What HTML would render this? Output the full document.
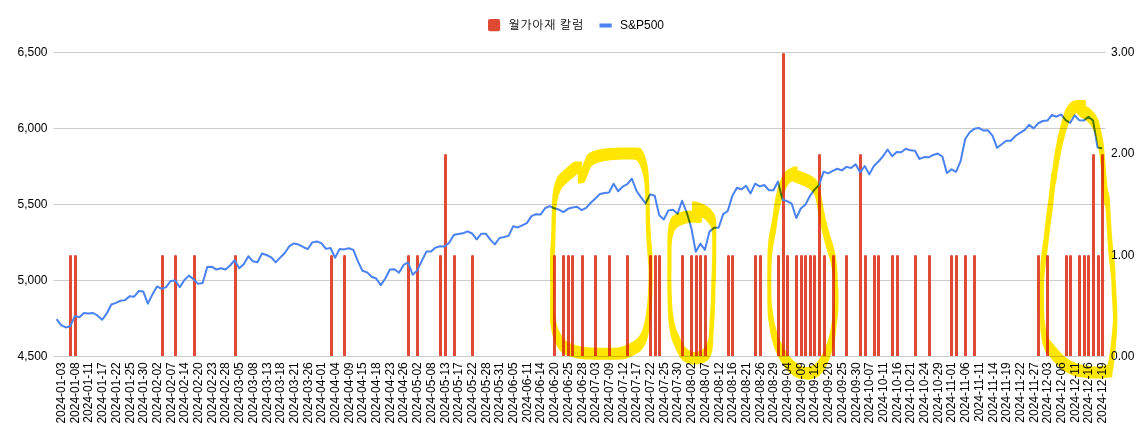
<!DOCTYPE html>
<html lang="ko"><head><meta charset="utf-8"><title>S&amp;P500 chart</title>
<style>html,body{margin:0;padding:0;background:#fff}body{width:1146px;height:433px;overflow:hidden}svg{display:block}text{font-family:"Liberation Sans","NanumGothic","Noto Sans CJK KR",sans-serif;font-size:12px;fill:#000}.hl{mix-blend-mode:multiply}</style></head><body>
<svg width="1146" height="433" viewBox="0 0 1146 433">
<rect width="1146" height="433" fill="#fff"/>
<g fill="#ccc">
<rect x="53.5" y="52" width="1052" height="1"/>
<rect x="53.5" y="128" width="1052" height="1"/>
<rect x="53.5" y="204" width="1052" height="1"/>
<rect x="53.5" y="280" width="1052" height="1"/>
<rect x="53.5" y="356" width="1052" height="1"/>
</g>
<g fill="#e04a35">
<path d="M69 356V256.3Q69 255.0 70.5 255.0Q72 255.0 72 256.3V356Z"/>
<path d="M74 356V256.3Q74 255.0 75.5 255.0Q77 255.0 77 256.3V356Z"/>
<path d="M161 356V256.3Q161 255.0 162.5 255.0Q164 255.0 164 256.3V356Z"/>
<path d="M174 356V256.3Q174 255.0 175.5 255.0Q177 255.0 177 256.3V356Z"/>
<path d="M193 356V256.3Q193 255.0 194.5 255.0Q196 255.0 196 256.3V356Z"/>
<path d="M234 356V256.3Q234 255.0 235.5 255.0Q237 255.0 237 256.3V356Z"/>
<path d="M330 356V256.3Q330 255.0 331.5 255.0Q333 255.0 333 256.3V356Z"/>
<path d="M343 356V256.3Q343 255.0 344.5 255.0Q346 255.0 346 256.3V356Z"/>
<path d="M407 356V256.3Q407 255.0 408.5 255.0Q410 255.0 410 256.3V356Z"/>
<path d="M416 356V256.3Q416 255.0 417.5 255.0Q419 255.0 419 256.3V356Z"/>
<path d="M439 356V256.3Q439 255.0 440.5 255.0Q442 255.0 442 256.3V356Z"/>
<path d="M444 356V155.3Q444 154.0 445.5 154.0Q447 154.0 447 155.3V356Z"/>
<path d="M453 356V256.3Q453 255.0 454.5 255.0Q456 255.0 456 256.3V356Z"/>
<path d="M471 356V256.3Q471 255.0 472.5 255.0Q474 255.0 474 256.3V356Z"/>
<path d="M553 356V256.3Q553 255.0 554.5 255.0Q556 255.0 556 256.3V356Z"/>
<path d="M562 356V256.3Q562 255.0 563.5 255.0Q565 255.0 565 256.3V356Z"/>
<path d="M567 356V256.3Q567 255.0 568.5 255.0Q570 255.0 570 256.3V356Z"/>
<path d="M571 356V256.3Q571 255.0 572.5 255.0Q574 255.0 574 256.3V356Z"/>
<path d="M581 356V256.3Q581 255.0 582.5 255.0Q584 255.0 584 256.3V356Z"/>
<path d="M594 356V256.3Q594 255.0 595.5 255.0Q597 255.0 597 256.3V356Z"/>
<path d="M608 356V256.3Q608 255.0 609.5 255.0Q611 255.0 611 256.3V356Z"/>
<path d="M626 356V256.3Q626 255.0 627.5 255.0Q629 255.0 629 256.3V356Z"/>
<path d="M649 356V256.3Q649 255.0 650.5 255.0Q652 255.0 652 256.3V356Z"/>
<path d="M654 356V256.3Q654 255.0 655.5 255.0Q657 255.0 657 256.3V356Z"/>
<path d="M658 356V256.3Q658 255.0 659.5 255.0Q661 255.0 661 256.3V356Z"/>
<path d="M681 356V256.3Q681 255.0 682.5 255.0Q684 255.0 684 256.3V356Z"/>
<path d="M690 356V256.3Q690 255.0 691.5 255.0Q693 255.0 693 256.3V356Z"/>
<path d="M695 356V256.3Q695 255.0 696.5 255.0Q698 255.0 698 256.3V356Z"/>
<path d="M699 356V256.3Q699 255.0 700.5 255.0Q702 255.0 702 256.3V356Z"/>
<path d="M704 356V256.3Q704 255.0 705.5 255.0Q707 255.0 707 256.3V356Z"/>
<path d="M727 356V256.3Q727 255.0 728.5 255.0Q730 255.0 730 256.3V356Z"/>
<path d="M731 356V256.3Q731 255.0 732.5 255.0Q734 255.0 734 256.3V356Z"/>
<path d="M754 356V256.3Q754 255.0 755.5 255.0Q757 255.0 757 256.3V356Z"/>
<path d="M759 356V256.3Q759 255.0 760.5 255.0Q762 255.0 762 256.3V356Z"/>
<path d="M777 356V256.3Q777 255.0 778.5 255.0Q780 255.0 780 256.3V356Z"/>
<path d="M782 356V54.3Q782 53.0 783.5 53.0Q785 53.0 785 54.3V356Z"/>
<path d="M786 356V256.3Q786 255.0 787.5 255.0Q789 255.0 789 256.3V356Z"/>
<path d="M795 356V256.3Q795 255.0 796.5 255.0Q798 255.0 798 256.3V356Z"/>
<path d="M800 356V256.3Q800 255.0 801.5 255.0Q803 255.0 803 256.3V356Z"/>
<path d="M804 356V256.3Q804 255.0 805.5 255.0Q807 255.0 807 256.3V356Z"/>
<path d="M809 356V256.3Q809 255.0 810.5 255.0Q812 255.0 812 256.3V356Z"/>
<path d="M813 356V256.3Q813 255.0 814.5 255.0Q816 255.0 816 256.3V356Z"/>
<path d="M818 356V155.3Q818 154.0 819.5 154.0Q821 154.0 821 155.3V356Z"/>
<path d="M823 356V256.3Q823 255.0 824.5 255.0Q826 255.0 826 256.3V356Z"/>
<path d="M832 356V256.3Q832 255.0 833.5 255.0Q835 255.0 835 256.3V356Z"/>
<path d="M845 356V256.3Q845 255.0 846.5 255.0Q848 255.0 848 256.3V356Z"/>
<path d="M859 356V155.3Q859 154.0 860.5 154.0Q862 154.0 862 155.3V356Z"/>
<path d="M864 356V256.3Q864 255.0 865.5 255.0Q867 255.0 867 256.3V356Z"/>
<path d="M873 356V256.3Q873 255.0 874.5 255.0Q876 255.0 876 256.3V356Z"/>
<path d="M877 356V256.3Q877 255.0 878.5 255.0Q880 255.0 880 256.3V356Z"/>
<path d="M891 356V256.3Q891 255.0 892.5 255.0Q894 255.0 894 256.3V356Z"/>
<path d="M896 356V256.3Q896 255.0 897.5 255.0Q899 255.0 899 256.3V356Z"/>
<path d="M914 356V256.3Q914 255.0 915.5 255.0Q917 255.0 917 256.3V356Z"/>
<path d="M928 356V256.3Q928 255.0 929.5 255.0Q931 255.0 931 256.3V356Z"/>
<path d="M950 356V256.3Q950 255.0 951.5 255.0Q953 255.0 953 256.3V356Z"/>
<path d="M955 356V256.3Q955 255.0 956.5 255.0Q958 255.0 958 256.3V356Z"/>
<path d="M964 356V256.3Q964 255.0 965.5 255.0Q967 255.0 967 256.3V356Z"/>
<path d="M973 356V256.3Q973 255.0 974.5 255.0Q976 255.0 976 256.3V356Z"/>
<path d="M1037 356V256.3Q1037 255.0 1038.5 255.0Q1040 255.0 1040 256.3V356Z"/>
<path d="M1046 356V256.3Q1046 255.0 1047.5 255.0Q1049 255.0 1049 256.3V356Z"/>
<path d="M1065 356V256.3Q1065 255.0 1066.5 255.0Q1068 255.0 1068 256.3V356Z"/>
<path d="M1069 356V256.3Q1069 255.0 1070.5 255.0Q1072 255.0 1072 256.3V356Z"/>
<path d="M1078 356V256.3Q1078 255.0 1079.5 255.0Q1081 255.0 1081 256.3V356Z"/>
<path d="M1083 356V256.3Q1083 255.0 1084.5 255.0Q1086 255.0 1086 256.3V356Z"/>
<path d="M1087 356V256.3Q1087 255.0 1088.5 255.0Q1090 255.0 1090 256.3V356Z"/>
<path d="M1092 356V155.3Q1092 154.0 1093.5 154.0Q1095 154.0 1095 155.3V356Z"/>
<path d="M1097 356V256.3Q1097 255.0 1098.5 255.0Q1100 255.0 1100 256.3V356Z"/>
<path d="M1101 356V155.3Q1101 154.0 1102.5 154.0Q1104 154.0 1104 155.3V356Z"/>
</g>
<polyline points="56.55,319.24 61.12,325.02 65.68,327.47 70.25,326.17 74.81,316.09 79.38,317.16 83.95,313.07 88.51,313.55 93.08,313.01 97.64,315.72 102.21,319.79 106.78,313.45 111.34,304.50 115.91,302.88 120.47,300.73 125.04,300.13 129.61,296.24 134.17,296.72 138.74,291.10 143.30,291.55 147.87,303.61 152.44,294.41 157.00,286.44 161.57,288.84 166.13,287.11 170.70,280.90 175.27,280.47 179.83,287.27 184.40,280.06 188.96,275.63 193.53,279.30 198.10,283.87 202.66,282.92 207.23,266.92 211.79,266.65 216.36,269.58 220.93,268.27 225.49,269.55 230.06,265.52 234.62,260.25 239.19,268.20 243.76,264.23 248.32,256.23 252.89,261.35 257.45,262.22 262.02,253.51 266.59,255.02 271.15,257.28 275.72,262.35 280.28,257.44 284.85,253.02 289.42,246.01 293.98,243.44 298.55,244.55 303.11,246.99 307.68,249.21 312.25,242.38 316.81,241.49 321.38,243.10 325.94,248.87 330.51,248.00 335.08,257.77 339.64,249.09 344.21,249.39 348.77,248.24 353.34,249.89 357.91,261.39 362.47,270.75 367.04,272.34 371.60,276.77 376.17,278.46 380.74,285.13 385.30,278.54 389.87,269.43 394.43,269.26 399.00,272.79 403.57,264.96 408.13,262.49 412.70,274.73 417.26,270.39 421.83,260.73 426.40,251.62 430.96,251.62 435.53,247.61 440.09,246.30 444.66,246.49 449.23,242.65 453.79,234.99 458.36,234.05 462.92,233.31 467.49,231.30 472.06,233.48 476.62,239.44 481.19,233.83 485.75,233.63 490.32,239.57 494.89,244.36 499.45,237.97 504.02,237.07 508.58,235.87 513.15,226.34 517.72,227.41 522.28,225.31 526.85,223.10 531.41,216.15 535.98,214.22 540.55,214.55 545.11,208.22 549.68,206.12 554.24,208.23 558.81,209.53 563.38,212.07 567.94,208.82 572.51,207.51 577.07,206.75 581.64,210.16 586.21,207.94 590.77,202.78 595.34,198.52 599.90,193.94 604.47,193.08 609.04,192.45 613.60,183.80 618.17,191.30 622.73,186.62 627.30,184.20 631.87,178.74 636.43,190.73 641.00,197.37 645.56,203.39 650.13,194.36 654.70,195.68 659.26,215.23 663.83,219.47 668.39,210.37 672.96,209.69 677.53,213.81 682.09,200.76 686.66,212.25 691.22,227.47 695.79,251.83 700.36,243.67 704.92,249.83 709.49,231.61 714.05,227.84 718.62,227.80 723.19,214.12 727.75,210.96 732.32,195.90 736.88,187.70 741.45,189.39 746.02,185.78 750.58,193.41 755.15,183.69 759.71,186.39 764.28,185.03 768.85,190.14 773.41,190.17 777.98,181.59 782.54,199.75 787.11,201.10 791.68,203.63 796.24,218.07 800.81,208.55 805.37,204.83 809.94,195.92 814.51,189.59 819.07,184.99 823.64,171.68 828.20,173.36 832.77,170.93 837.34,168.74 841.90,170.37 846.47,166.85 851.03,167.95 855.60,164.25 860.17,172.30 864.73,165.99 869.30,174.37 873.86,165.98 878.43,161.58 883.00,156.27 887.56,149.45 892.13,156.23 896.69,152.09 901.26,152.25 905.83,148.72 910.39,150.35 914.96,150.77 919.52,158.94 924.09,157.05 928.66,157.32 933.22,154.97 937.79,153.55 942.35,156.47 946.92,172.92 951.49,169.37 956.05,171.82 960.62,161.17 965.18,138.94 969.75,132.24 974.32,128.83 978.88,127.94 983.45,130.58 988.01,130.37 992.58,135.88 997.15,147.82 1001.71,144.32 1006.28,140.77 1010.84,140.75 1015.41,135.95 1019.98,132.81 1024.54,130.07 1029.11,124.86 1033.67,128.34 1038.24,123.23 1042.81,120.98 1047.37,120.57 1051.94,115.00 1056.50,116.73 1061.07,114.43 1065.64,120.12 1070.20,122.84 1074.77,115.35 1079.33,120.36 1083.90,120.38 1088.47,116.89 1093.03,120.46 1097.60,147.58 1102.16,148.35" fill="none" stroke="#4a82f2" stroke-width="2" stroke-linejoin="round"/>
<g class="hl" fill="#ffe600" stroke="none">
<path d="M552.0 204.7 L551.9 207.4 L551.8 210.1 L551.8 212.9 L551.7 215.5 L551.6 218.1 L551.5 220.7 L551.5 223.3 L551.4 225.9 L551.4 228.5 L551.3 231.1 L551.2 233.7 L551.1 236.3 L551.0 238.9 L550.8 241.5 L550.7 244.0 L550.5 246.6 L550.3 249.2 L550.2 251.8 L550.1 254.4 L550.0 257.1 L550.0 259.8 L550.0 271.8 L550.0 274.5 L550.1 277.2 L550.2 279.9 L550.2 282.6 L550.3 285.5 L550.3 286.6 L550.3 289.9 L550.2 293.6 L550.1 297.2 L550.1 300.6 L550.1 303.7 L550.1 315.7 L550.1 318.3 L550.1 320.4 L550.2 322.0 L550.3 323.2 L550.4 324.3 L550.5 325.2 L550.7 326.2 L550.9 327.2 L551.1 328.5 L551.4 330.0 L551.7 331.6 L552.0 333.2 L552.4 334.9 L552.8 336.5 L553.3 338.1 L553.8 339.7 L554.4 341.2 L555.0 342.6 L555.8 344.1 L556.5 345.5 L557.3 346.8 L558.2 348.1 L559.0 349.3 L559.9 350.4 L560.8 351.4 L561.7 352.2 L562.5 353.0 L563.3 353.6 L564.2 354.1 L565.1 354.6 L566.1 355.0 L567.2 355.4 L568.4 355.9 L569.7 356.4 L571.0 356.8 L572.5 357.3 L574.0 357.7 L575.6 358.1 L577.3 358.4 L579.1 358.7 L581.1 359.0 L583.3 359.2 L585.8 359.4 L588.4 359.5 L591.1 359.6 L593.8 359.7 L596.5 359.7 L599.0 359.8 L601.4 359.8 L603.6 359.8 L607.6 359.8 L609.8 359.8 L611.9 359.8 L614.0 359.8 L615.9 359.7 L617.7 359.7 L619.3 359.6 L620.7 359.5 L621.9 359.4 L622.7 359.4 L623.4 359.3 L624.0 359.2 L624.5 359.1 L625.0 358.9 L625.6 358.7 L626.3 358.5 L627.2 358.2 L628.1 357.9 L629.0 357.5 L630.0 357.1 L631.0 356.7 L632.0 356.2 L632.9 355.7 L633.9 355.2 L634.9 354.7 L635.9 354.1 L636.9 353.6 L637.9 353.0 L638.8 352.4 L639.8 351.7 L640.7 350.9 L641.5 350.1 L642.3 349.2 L643.0 348.2 L643.7 347.1 L644.4 346.0 L645.0 344.8 L645.6 343.6 L646.1 342.4 L646.6 341.2 L647.0 340.0 L647.4 338.9 L647.7 337.7 L648.0 336.5 L648.3 335.2 L648.6 333.9 L648.8 332.5 L649.1 331.0 L649.4 329.4 L649.7 327.7 L650.0 325.9 L650.2 324.0 L650.5 322.1 L650.8 320.0 L651.0 318.0 L651.2 315.8 L651.4 313.6 L651.6 311.3 L651.7 309.0 L651.9 306.6 L652.0 304.1 L652.1 301.6 L652.2 298.8 L652.3 296.0 L652.4 292.9 L652.5 289.6 L652.5 286.2 L652.6 282.6 L652.6 279.1 L652.6 275.6 L652.6 263.6 L652.6 260.2 L652.5 257.1 L652.4 254.2 L652.2 251.5 L652.0 248.9 L651.8 246.3 L651.6 243.8 L651.4 241.4 L651.2 238.9 L651.0 236.3 L650.8 233.7 L650.7 231.1 L650.5 228.5 L650.4 225.9 L650.2 223.3 L650.1 220.7 L650.0 218.1 L649.9 215.5 L649.8 212.9 L649.8 210.2 L649.7 207.4 L649.7 204.7 L649.7 202.1 L649.7 199.5 L649.6 197.1 L649.6 194.8 L649.5 192.7 L649.5 190.7 L649.4 188.9 L649.3 187.1 L649.2 185.4 L649.2 183.8 L649.1 182.3 L649.0 180.8 L648.9 179.4 L648.8 178.0 L648.8 176.8 L648.7 175.6 L648.6 174.4 L648.5 173.3 L648.4 172.2 L648.3 171.1 L648.2 170.0 L648.0 168.9 L647.9 167.8 L647.7 166.8 L647.6 165.7 L647.4 164.7 L647.2 163.8 L647.0 162.8 L646.8 161.9 L646.5 161.0 L646.3 160.1 L646.0 159.2 L645.8 158.4 L645.5 157.5 L645.2 156.7 L644.9 155.9 L644.6 155.1 L644.2 154.3 L643.9 153.4 L643.5 152.6 L643.2 151.9 L642.8 151.2 L642.5 150.5 L642.1 150.0 L641.8 149.5 L641.5 149.2 L641.2 148.9 L641.0 148.6 L640.7 148.4 L640.3 148.2 L639.9 148.1 L639.3 147.9 L638.6 147.8 L637.8 147.6 L636.9 147.6 L636.0 147.5 L635.0 147.5 L634.0 147.4 L633.0 147.4 L632.0 147.4 L631.0 147.4 L630.1 147.4 L629.2 147.4 L625.2 147.4 L624.2 147.4 L623.2 147.4 L622.1 147.4 L620.9 147.4 L619.6 147.5 L618.1 147.6 L616.3 147.7 L614.4 147.8 L612.5 147.9 L610.5 148.0 L608.7 148.1 L606.9 148.3 L605.4 148.4 L604.1 148.6 L602.9 148.7 L601.8 148.9 L600.8 149.1 L599.9 149.2 L598.9 149.4 L598.0 149.7 L597.1 149.9 L596.1 150.2 L595.2 150.4 L594.3 150.7 L593.4 151.0 L592.5 151.3 L591.7 151.7 L590.9 152.0 L590.2 152.4 L589.6 152.8 L589.0 153.1 L588.5 153.5 L588.1 153.9 L587.7 154.3 L587.3 154.8 L586.9 155.3 L586.5 155.9 L586.1 156.6 L585.8 157.3 L585.4 158.2 L585.1 159.0 L584.8 159.9 L584.5 160.8 L584.1 161.7 L583.8 162.6 L583.5 163.5 L583.1 164.4 L582.8 165.4 L582.4 166.4 L582.1 167.3 L582.0 167.5 L582.0 161.6 L581.7 161.6 L581.3 161.6 L580.8 161.5 L580.2 161.5 L576.2 161.5 L575.6 161.5 L575.0 161.6 L574.4 161.7 L573.8 161.9 L573.2 162.2 L572.6 162.6 L572.0 163.1 L571.3 163.6 L570.7 164.2 L570.0 164.8 L569.4 165.3 L568.7 165.9 L568.0 166.5 L567.3 167.1 L566.6 167.7 L565.9 168.3 L565.2 168.9 L564.5 169.6 L563.8 170.2 L563.1 170.8 L562.4 171.4 L561.8 172.0 L561.2 172.5 L560.5 173.1 L559.9 173.7 L559.4 174.3 L558.8 174.9 L558.3 175.6 L557.8 176.3 L557.4 176.9 L557.0 177.6 L556.7 178.2 L556.3 179.0 L556.0 179.8 L555.7 180.8 L555.3 181.9 L554.9 183.1 L554.5 184.5 L554.1 185.9 L553.8 187.5 L553.4 189.1 L553.1 190.9 L552.8 192.8 L552.5 194.8 L552.3 197.0 L552.2 199.4 L552.0 202.0Z M597.8 347.7 L595.1 347.6 L592.4 347.5 L589.8 347.4 L587.3 347.2 L585.1 347.0 L583.1 346.7 L581.3 346.4 L579.6 346.1 L578.0 345.7 L576.5 345.3 L575.0 344.8 L573.7 344.4 L572.4 343.9 L571.2 343.4 L570.1 343.0 L569.1 342.6 L568.2 342.1 L567.3 341.6 L566.5 341.0 L565.7 340.2 L564.8 339.4 L563.9 338.4 L563.0 337.3 L562.2 336.1 L561.3 334.8 L560.5 333.5 L559.8 332.1 L559.0 330.6 L558.4 329.2 L557.8 327.7 L557.3 326.1 L556.8 324.5 L556.4 322.9 L556.0 321.2 L555.7 319.6 L555.4 318.0 L555.1 316.5 L554.9 315.2 L554.7 314.2 L554.5 313.2 L554.4 312.3 L554.3 311.2 L554.2 310.0 L554.2 308.7 L554.2 305.6 L554.3 301.9 L554.3 298.2 L554.4 294.7 L554.4 291.4 L554.4 279.4 L554.4 276.4 L554.3 273.5 L554.2 270.6 L554.2 267.9 L554.1 265.9 L554.2 263.8 L554.3 261.2 L554.5 258.6 L554.7 256.0 L554.8 253.5 L555.0 250.9 L555.1 248.3 L555.2 245.7 L555.3 243.1 L555.4 240.5 L555.4 237.9 L555.5 235.3 L555.5 232.7 L555.6 230.1 L555.7 227.5 L555.8 224.9 L555.8 222.1 L555.9 219.4 L556.0 216.7 L556.0 214.0 L556.2 211.4 L556.3 209.0 L556.5 206.8 L556.8 204.8 L557.1 202.9 L557.4 201.1 L557.8 199.5 L558.1 197.9 L558.5 196.5 L558.9 195.1 L559.3 193.9 L559.7 192.8 L560.0 191.8 L560.3 191.0 L560.7 190.2 L561.0 189.6 L561.4 188.9 L561.8 188.3 L562.3 187.6 L562.8 186.9 L563.4 186.3 L563.9 185.7 L564.5 185.1 L565.2 184.5 L565.8 184.0 L566.4 183.4 L567.1 182.8 L567.8 182.2 L568.5 181.6 L569.2 180.9 L569.9 180.3 L570.6 179.7 L571.3 179.1 L572.0 178.5 L572.7 177.9 L573.4 177.3 L574.0 176.8 L574.7 176.2 L575.3 175.6 L576.0 175.1 L576.6 174.6 L577.2 174.2 L577.8 173.9 L577.8 183.4 L581.8 183.4 L582.0 183.3 L582.4 183.2 L582.8 183.0 L583.2 182.9 L583.7 182.7 L584.2 182.4 L584.6 182.0 L585.0 181.5 L585.4 180.9 L585.7 180.1 L586.1 179.3 L586.4 178.4 L586.8 177.4 L587.1 176.4 L587.5 175.5 L587.8 174.6 L588.1 173.7 L588.5 172.8 L588.8 171.9 L589.1 171.0 L589.4 170.2 L589.8 169.3 L590.1 168.6 L590.5 167.9 L590.9 167.3 L591.3 166.8 L591.7 166.3 L592.1 165.9 L592.5 165.5 L593.0 165.1 L593.6 164.8 L594.2 164.4 L594.9 164.0 L595.7 163.7 L596.5 163.3 L597.4 163.0 L598.3 162.7 L599.2 162.4 L600.1 162.2 L601.1 161.9 L602.0 161.7 L602.9 161.4 L603.9 161.2 L604.8 161.1 L605.8 160.9 L606.9 160.7 L608.1 160.6 L609.4 160.4 L610.9 160.3 L612.7 160.1 L614.5 160.0 L616.5 159.9 L618.4 159.8 L620.3 159.7 L622.1 159.6 L623.6 159.5 L624.9 159.4 L626.1 159.4 L627.1 159.4 L628.0 159.4 L629.0 159.4 L630.0 159.4 L631.0 159.5 L632.0 159.5 L632.9 159.6 L633.8 159.6 L634.6 159.8 L635.3 159.9 L635.9 160.1 L636.3 160.2 L636.7 160.4 L637.0 160.6 L637.2 160.9 L637.5 161.2 L637.8 161.5 L638.1 162.0 L638.5 162.5 L638.8 163.2 L639.2 163.9 L639.5 164.6 L639.9 165.4 L640.2 166.3 L640.6 167.1 L640.9 167.9 L641.2 168.7 L641.5 169.5 L641.8 170.4 L642.0 171.2 L642.3 172.1 L642.5 173.0 L642.8 173.9 L643.0 174.8 L643.2 175.8 L643.4 176.7 L643.6 177.7 L643.7 178.8 L643.9 179.8 L644.0 180.9 L644.2 182.0 L644.3 183.1 L644.4 184.2 L644.5 185.3 L644.6 186.4 L644.7 187.6 L644.8 188.8 L644.8 190.0 L644.9 191.4 L645.0 192.8 L645.1 194.3 L645.2 195.8 L645.2 197.4 L645.3 199.1 L645.4 200.9 L645.5 202.7 L645.5 204.7 L645.6 206.8 L645.6 209.1 L645.7 211.5 L645.7 214.1 L645.7 216.7 L645.7 219.4 L645.8 222.2 L645.8 224.9 L645.9 227.5 L646.0 230.1 L646.1 232.7 L646.2 235.3 L646.4 237.9 L646.5 240.5 L646.7 243.1 L646.8 245.7 L647.0 248.3 L647.2 250.9 L647.4 253.4 L647.6 255.8 L647.8 258.3 L648.0 260.9 L648.2 263.5 L648.4 266.2 L648.5 269.1 L648.5 271.6 L648.5 274.2 L648.5 277.6 L648.4 280.9 L648.3 284.0 L648.2 286.8 L648.1 289.6 L648.0 292.1 L647.9 294.6 L647.7 297.0 L647.6 299.3 L647.4 301.6 L647.2 303.8 L647.0 306.0 L646.8 308.0 L646.5 310.1 L646.2 312.0 L646.0 313.9 L645.7 315.7 L645.4 317.4 L645.1 319.0 L644.8 320.5 L644.6 321.9 L644.3 323.2 L644.0 324.5 L643.7 325.7 L643.4 326.9 L643.0 328.0 L642.6 329.2 L642.1 330.4 L641.6 331.6 L641.0 332.8 L640.4 334.0 L639.7 335.1 L639.0 336.2 L638.3 337.2 L637.5 338.1 L636.7 338.9 L635.8 339.7 L634.8 340.4 L633.9 341.0 L632.9 341.6 L631.9 342.1 L630.9 342.7 L629.9 343.2 L628.9 343.7 L628.0 344.2 L627.0 344.7 L626.0 345.1 L625.0 345.5 L624.1 345.9 L623.2 346.2 L622.3 346.5 L621.6 346.7 L621.0 346.9 L620.5 347.1 L620.0 347.2 L619.4 347.3 L618.7 347.4 L617.9 347.4 L616.7 347.5 L615.3 347.6 L613.7 347.7 L611.9 347.7 L610.0 347.8 L607.9 347.8 L606.6 347.8 L605.4 347.8 L603.0 347.8 L600.5 347.7Z"/>
<path d="M668.2 227.6 L668.1 228.8 L667.9 230.2 L667.8 231.7 L667.7 233.4 L667.5 235.1 L667.4 236.8 L667.4 238.5 L667.3 240.1 L667.3 241.6 L667.3 253.6 L667.3 255.0 L667.3 256.3 L667.4 257.7 L667.4 259.2 L667.4 259.9 L667.4 260.4 L667.4 263.4 L667.3 266.4 L667.3 269.5 L667.3 272.6 L667.3 284.6 L667.3 287.5 L667.3 290.5 L667.4 293.5 L667.5 296.6 L667.5 299.7 L667.6 302.7 L667.7 305.6 L667.8 308.2 L667.9 310.6 L668.0 312.7 L668.1 314.4 L668.1 316.0 L668.2 317.4 L668.3 318.7 L668.4 320.0 L668.5 321.5 L668.7 323.0 L668.9 324.7 L669.1 326.5 L669.4 328.3 L669.7 330.1 L670.0 332.0 L670.3 333.7 L670.6 335.4 L671.0 336.9 L671.4 338.3 L671.7 339.5 L672.1 340.7 L672.5 341.8 L673.0 342.8 L673.4 343.9 L673.9 344.9 L674.4 346.1 L674.9 347.3 L675.5 348.6 L676.0 349.9 L676.6 351.2 L677.2 352.5 L677.8 353.8 L678.5 354.9 L679.1 356.0 L679.8 357.0 L680.4 357.9 L681.1 358.7 L681.8 359.5 L682.5 360.2 L683.3 360.8 L684.0 361.4 L684.8 362.0 L685.6 362.5 L686.5 362.9 L687.4 363.3 L688.3 363.7 L689.2 363.9 L690.1 364.1 L691.0 364.3 L691.9 364.4 L692.8 364.4 L696.8 364.4 L697.7 364.4 L698.6 364.3 L699.5 364.1 L700.4 363.9 L701.2 363.7 L702.1 363.4 L702.9 363.1 L703.7 362.8 L704.5 362.4 L705.3 362.0 L706.1 361.5 L706.8 361.0 L707.5 360.5 L708.1 359.9 L708.7 359.3 L709.2 358.6 L709.7 357.9 L710.1 357.1 L710.5 356.3 L710.8 355.5 L711.1 354.7 L711.4 353.8 L711.7 353.0 L711.9 352.2 L712.1 351.4 L712.3 350.7 L712.5 349.9 L712.6 349.1 L712.7 348.2 L712.8 347.2 L712.9 346.1 L713.0 345.0 L713.1 343.8 L713.1 342.7 L713.2 341.4 L713.2 340.0 L713.3 338.5 L713.4 336.7 L713.5 334.6 L713.6 332.2 L713.8 329.5 L714.0 326.5 L714.2 323.3 L714.4 320.1 L714.6 316.8 L714.8 313.6 L714.9 310.6 L715.0 307.6 L715.1 304.4 L715.2 301.2 L715.3 298.1 L715.3 295.1 L715.4 292.2 L715.4 289.7 L715.5 287.5 L715.6 285.8 L715.6 284.5 L715.7 283.5 L715.7 282.7 L715.8 282.0 L715.8 281.2 L715.9 280.3 L715.9 279.0 L715.9 277.5 L716.0 275.9 L716.0 274.2 L716.1 272.5 L716.1 270.6 L716.1 268.6 L716.2 266.6 L716.2 264.4 L716.2 262.0 L716.2 259.3 L716.2 256.5 L716.2 244.5 L716.2 241.6 L716.2 241.1 L716.2 240.6 L716.2 239.5 L716.3 238.6 L716.3 237.8 L716.3 225.8 L716.3 225.0 L716.2 224.2 L716.2 223.3 L716.1 222.3 L716.1 221.4 L716.0 220.4 L715.9 219.5 L715.8 218.5 L715.6 217.7 L715.4 216.8 L715.2 216.0 L714.9 215.2 L714.6 214.5 L714.2 213.8 L713.9 213.2 L713.4 212.6 L713.0 212.0 L712.6 211.4 L712.1 210.8 L711.6 210.2 L711.2 209.7 L710.7 209.1 L710.2 208.6 L709.7 208.1 L709.1 207.6 L708.5 207.2 L707.9 206.7 L707.2 206.2 L706.5 205.8 L705.7 205.4 L704.9 205.0 L704.1 204.6 L703.3 204.2 L702.5 203.8 L701.7 203.5 L700.9 203.2 L700.1 202.9 L699.3 202.6 L698.5 202.3 L697.8 202.1 L697.1 201.8 L696.5 201.6 L696.1 201.5 L692.1 201.5 L692.1 210.6 L690.7 210.6 L689.0 210.6 L687.4 210.7 L686.0 210.8 L684.7 211.0 L683.4 211.3 L682.2 211.6 L681.0 211.9 L679.9 212.3 L678.9 212.7 L677.8 213.1 L676.9 213.5 L676.0 213.9 L675.2 214.3 L674.5 214.8 L673.8 215.2 L673.1 215.7 L672.5 216.2 L672.0 216.8 L671.5 217.3 L671.1 217.9 L670.7 218.5 L670.4 219.2 L670.2 219.8 L670.0 220.5 L669.8 221.2 L669.6 221.8 L669.4 222.5 L669.2 223.1 L669.0 223.6 L668.9 224.1 L668.7 224.6 L668.6 225.1 L668.5 225.8 L668.3 226.6Z M686.5 348.2 L685.8 347.5 L685.1 346.7 L684.4 345.9 L683.8 345.0 L683.1 344.0 L682.5 342.9 L681.8 341.8 L681.2 340.5 L680.6 339.2 L680.0 337.9 L679.5 336.6 L678.9 335.3 L678.4 334.1 L677.9 332.9 L677.4 331.9 L677.0 330.8 L676.5 329.8 L676.1 328.7 L675.7 327.5 L675.4 326.3 L675.0 324.9 L674.6 323.4 L674.3 321.7 L674.0 320.0 L673.7 318.1 L673.4 316.3 L673.1 314.5 L672.9 312.7 L672.7 311.0 L672.5 309.5 L672.4 308.0 L672.3 306.7 L672.2 305.4 L672.1 304.0 L672.1 302.4 L672.0 300.7 L671.9 298.6 L671.8 296.2 L671.7 293.6 L671.6 290.7 L671.5 287.7 L671.5 284.6 L671.4 281.5 L671.3 278.5 L671.3 278.4 L671.4 275.4 L671.4 272.4 L671.5 269.6 L671.5 267.0 L671.5 264.6 L671.5 252.6 L671.5 250.5 L671.5 248.7 L671.4 248.7 L671.5 247.1 L671.7 245.4 L671.8 243.7 L671.9 242.2 L672.1 240.8 L672.2 239.6 L672.3 238.6 L672.5 237.8 L672.6 237.1 L672.7 236.6 L672.9 236.1 L673.0 235.6 L673.2 235.1 L673.4 234.5 L673.6 233.8 L673.8 233.2 L674.0 232.5 L674.2 231.8 L674.4 231.2 L674.7 230.5 L675.1 229.9 L675.5 229.3 L676.0 228.8 L676.5 228.2 L677.1 227.7 L677.8 227.2 L678.5 226.8 L679.2 226.3 L680.0 225.9 L680.9 225.5 L681.8 225.1 L682.9 224.7 L683.9 224.3 L685.0 223.9 L686.2 223.6 L687.4 223.3 L688.7 223.0 L690.0 222.8 L691.4 222.7 L693.0 222.6 L694.1 222.6 L695.6 222.7 L696.9 222.7 L697.8 222.7 L701.8 222.7 L701.8 217.4 L702.5 217.8 L703.2 218.2 L703.9 218.7 L704.5 219.2 L705.1 219.6 L705.7 220.1 L706.2 220.6 L706.7 221.1 L707.2 221.7 L707.6 222.2 L708.1 222.8 L708.6 223.4 L709.0 224.0 L709.4 224.6 L709.9 225.2 L710.2 225.8 L710.6 226.5 L710.9 227.2 L711.2 228.0 L711.4 228.8 L711.6 229.7 L711.8 230.5 L711.9 231.5 L712.0 232.4 L712.1 233.4 L712.1 234.3 L712.2 235.3 L712.2 243.6 L712.2 245.6 L712.2 248.1 L712.2 250.4 L712.2 252.4 L712.2 254.6 L712.1 256.6 L712.1 258.6 L712.1 260.5 L712.0 262.2 L712.0 263.9 L711.9 265.5 L711.9 267.0 L711.9 268.3 L711.8 269.2 L711.8 270.0 L711.7 270.7 L711.7 271.5 L711.6 272.5 L711.6 273.8 L711.5 275.5 L711.4 277.7 L711.4 280.2 L711.3 283.1 L711.3 286.1 L711.2 289.2 L711.1 292.4 L711.0 295.6 L710.9 298.6 L710.8 301.6 L710.6 304.8 L710.4 308.1 L710.2 311.3 L710.0 314.5 L709.8 317.5 L709.6 320.2 L709.5 322.6 L709.4 324.7 L709.3 326.5 L709.2 328.0 L709.2 329.4 L709.1 330.7 L709.1 331.8 L709.0 333.0 L708.9 334.1 L708.8 335.2 L708.7 336.2 L708.6 337.1 L708.5 337.9 L708.3 338.7 L708.1 339.4 L707.9 340.2 L707.7 341.0 L707.4 341.8 L707.1 342.7 L706.8 343.5 L706.5 344.3 L706.1 345.1 L705.7 345.9 L705.2 346.6 L704.7 347.3 L704.1 347.9 L703.5 348.5 L702.8 349.0 L702.1 349.5 L701.3 350.0 L700.5 350.4 L699.7 350.8 L698.9 351.1 L698.1 351.4 L697.2 351.7 L696.4 351.9 L695.5 352.1 L694.8 352.3 L694.1 352.1 L693.2 351.9 L692.3 351.7 L691.4 351.3 L690.5 350.9 L689.6 350.5 L688.8 350.0 L688.0 349.4 L687.3 348.8Z"/>
<path d="M768.3 241.4 L768.2 243.1 L768.0 244.8 L767.9 246.6 L767.8 248.4 L767.7 250.2 L767.6 252.1 L767.5 254.1 L767.5 256.1 L767.4 258.1 L767.4 260.2 L767.4 262.2 L767.3 264.3 L767.3 266.3 L767.3 268.3 L767.3 270.3 L767.3 272.2 L767.2 274.2 L767.2 286.2 L767.3 288.2 L767.3 290.2 L767.3 292.3 L767.3 294.5 L767.3 296.8 L767.3 299.3 L767.3 301.8 L767.4 304.3 L767.4 306.9 L767.5 309.4 L767.6 311.8 L767.7 314.1 L767.9 316.3 L768.1 318.5 L768.4 320.6 L768.7 322.7 L769.0 324.7 L769.3 326.6 L769.5 328.3 L769.8 329.9 L770.0 331.3 L770.2 332.4 L770.4 333.4 L770.5 334.3 L770.7 335.1 L770.9 336.0 L771.1 336.9 L771.4 338.0 L771.7 339.2 L772.0 340.4 L772.4 341.8 L772.8 343.1 L773.2 344.4 L773.6 345.7 L774.0 347.0 L774.4 348.2 L774.8 349.3 L775.2 350.4 L775.7 351.4 L776.1 352.4 L776.6 353.4 L777.1 354.5 L777.6 355.5 L778.2 356.6 L778.8 357.8 L779.5 359.0 L780.2 360.2 L780.9 361.5 L781.7 362.8 L782.4 364.0 L783.2 365.2 L784.0 366.3 L784.8 367.3 L785.6 368.4 L786.4 369.3 L787.2 370.3 L788.0 371.2 L788.9 372.0 L789.7 372.8 L790.6 373.6 L791.5 374.3 L792.5 375.0 L793.4 375.7 L794.4 376.3 L795.4 376.9 L796.4 377.4 L797.4 377.8 L798.3 378.2 L799.2 378.5 L800.2 378.7 L801.2 378.9 L802.2 379.0 L803.1 379.1 L803.9 379.1 L804.7 379.1 L805.3 379.2 L805.8 379.3 L806.0 379.3 L806.2 379.4 L806.3 379.4 L806.4 379.4 L810.4 379.4 L810.6 379.4 L810.9 379.3 L811.3 379.2 L811.9 379.0 L812.6 378.8 L813.5 378.5 L814.4 378.2 L815.3 377.9 L816.2 377.5 L817.0 377.1 L817.8 376.7 L818.5 376.2 L819.1 375.7 L819.8 375.2 L820.4 374.6 L820.9 374.0 L821.5 373.4 L822.1 372.7 L822.7 371.9 L823.3 371.0 L823.9 370.1 L824.6 369.1 L825.2 368.1 L825.8 367.0 L826.4 365.9 L827.0 364.8 L827.5 363.8 L828.0 362.8 L828.4 361.8 L828.8 360.8 L829.2 359.7 L829.6 358.7 L830.0 357.7 L830.3 356.7 L830.7 355.7 L831.1 354.7 L831.4 353.7 L831.7 352.8 L832.0 351.8 L832.3 350.8 L832.6 349.8 L832.9 348.8 L833.2 347.7 L833.5 346.6 L833.7 345.4 L834.0 344.1 L834.2 342.9 L834.5 341.6 L834.7 340.4 L834.9 339.1 L835.1 338.0 L835.3 337.0 L835.4 336.1 L835.5 335.3 L835.6 334.6 L835.7 333.7 L835.8 332.7 L835.9 331.4 L836.1 329.9 L836.3 328.0 L836.6 325.8 L837.0 323.3 L837.3 320.8 L837.6 318.1 L837.9 315.5 L838.1 312.9 L838.3 310.6 L838.4 308.4 L838.4 306.4 L838.4 294.4 L838.4 292.3 L838.3 290.4 L838.2 288.4 L838.1 286.5 L838.0 284.5 L837.9 282.5 L837.8 280.5 L837.7 278.5 L837.7 276.4 L837.6 274.4 L837.5 272.4 L837.3 270.3 L837.2 268.3 L837.0 266.3 L836.8 264.3 L836.5 262.3 L836.3 260.3 L836.0 258.3 L835.7 256.3 L835.3 254.3 L834.9 252.3 L834.5 250.2 L834.0 248.1 L833.4 246.0 L832.8 244.0 L832.1 241.8 L831.5 239.7 L830.8 237.6 L830.1 235.4 L829.5 233.2 L828.9 231.0 L828.3 228.7 L827.7 226.4 L827.1 224.1 L826.5 221.8 L826.0 219.4 L825.4 217.1 L824.9 214.8 L824.4 212.4 L823.9 210.0 L823.5 207.6 L823.0 205.1 L822.6 202.7 L822.2 200.4 L821.8 198.3 L821.4 196.3 L821.1 194.5 L820.8 192.8 L820.5 191.2 L820.2 189.7 L820.0 188.3 L819.7 187.0 L819.4 185.8 L819.1 184.7 L818.7 183.7 L818.4 182.8 L818.0 182.1 L817.6 181.4 L817.1 180.8 L816.7 180.2 L816.2 179.6 L815.6 179.0 L815.0 178.4 L814.4 177.9 L813.7 177.3 L813.0 176.8 L812.2 176.4 L811.5 175.9 L810.7 175.4 L809.9 175.0 L809.1 174.6 L808.2 174.2 L807.3 173.8 L806.4 173.4 L805.5 173.0 L804.6 172.7 L803.7 172.3 L802.9 172.0 L802.1 171.7 L801.2 171.4 L800.3 171.1 L799.5 170.8 L798.7 170.5 L798.0 170.3 L797.5 170.1 L797.5 166.6 L797.5 166.6 L793.5 166.6 L793.4 166.6 L793.3 166.7 L793.2 166.7 L793.2 166.7 L793.2 166.8 L792.9 167.0 L792.3 167.3 L791.6 167.6 L790.7 168.0 L789.7 168.5 L788.7 169.0 L787.7 169.6 L786.8 170.2 L786.0 170.8 L785.3 171.5 L784.7 172.2 L784.1 173.0 L783.5 173.8 L783.0 174.6 L782.5 175.6 L781.9 176.6 L781.4 177.7 L780.9 178.9 L780.3 180.2 L779.8 181.6 L779.3 183.1 L778.8 184.6 L778.3 186.1 L777.8 187.7 L777.4 189.3 L777.0 190.9 L776.6 192.5 L776.2 194.2 L775.8 195.9 L775.4 197.7 L775.1 199.4 L774.7 201.2 L774.4 203.1 L774.1 205.0 L773.8 207.0 L773.5 209.0 L773.3 211.0 L773.0 213.1 L772.7 215.2 L772.4 217.2 L772.1 219.3 L771.7 221.4 L771.3 223.5 L770.9 225.6 L770.5 227.8 L770.1 229.9 L769.7 232.0 L769.3 234.0 L769.0 236.0 L768.7 237.9 L768.5 239.7Z M803.2 366.5 L802.3 366.2 L801.4 365.8 L800.4 365.4 L799.4 364.9 L798.4 364.3 L797.4 363.7 L796.5 363.0 L795.5 362.3 L794.6 361.6 L793.7 360.8 L792.9 360.0 L792.0 359.2 L791.2 358.3 L790.4 357.3 L789.6 356.4 L788.8 355.3 L788.0 354.3 L787.2 353.2 L786.4 352.0 L785.7 350.8 L784.9 349.5 L784.2 348.2 L783.5 347.0 L782.8 345.8 L782.2 344.6 L781.6 343.5 L781.1 342.5 L780.6 341.4 L780.1 340.4 L779.7 339.4 L779.2 338.4 L778.8 337.3 L778.4 336.2 L778.0 335.0 L777.6 333.7 L777.2 332.4 L776.8 331.1 L776.4 329.8 L776.0 328.4 L775.7 327.2 L775.4 326.0 L775.1 324.9 L774.9 324.0 L774.7 323.1 L774.5 322.3 L774.4 321.4 L774.2 320.4 L774.0 319.3 L773.8 317.9 L773.5 316.3 L773.3 314.6 L773.0 312.7 L772.7 310.7 L772.4 308.6 L772.1 306.5 L771.9 304.3 L771.7 302.1 L771.6 299.8 L771.5 297.4 L771.4 294.9 L771.4 292.3 L771.3 289.8 L771.3 287.3 L771.3 284.8 L771.3 282.5 L771.3 280.3 L771.3 280.3 L771.3 280.3 L771.3 278.3 L771.3 276.3 L771.4 274.2 L771.4 272.2 L771.4 270.1 L771.5 268.1 L771.5 266.1 L771.6 264.1 L771.7 262.2 L771.8 260.4 L771.9 258.6 L772.0 256.8 L772.2 255.1 L772.3 253.4 L772.5 251.7 L772.7 249.9 L773.0 248.0 L773.3 246.0 L773.7 244.0 L774.1 241.9 L774.5 239.8 L774.9 237.6 L775.3 235.5 L775.7 233.4 L776.1 231.3 L776.4 229.2 L776.7 227.2 L777.0 225.1 L777.3 223.0 L777.5 221.0 L777.8 219.0 L778.1 217.0 L778.4 215.1 L778.7 213.2 L779.1 211.4 L779.4 209.7 L779.8 207.9 L780.2 206.2 L780.6 204.5 L781.0 202.9 L781.4 201.3 L781.8 199.7 L782.3 198.1 L782.8 196.6 L783.3 195.1 L783.8 193.6 L784.3 192.2 L784.9 190.9 L785.4 189.7 L785.9 188.6 L786.5 187.6 L787.0 186.6 L787.5 185.8 L788.1 185.0 L788.7 184.2 L789.3 183.5 L790.0 182.8 L790.8 182.2 L791.7 181.6 L792.7 181.0 L793.0 180.8 L793.0 181.9 L793.4 182.1 L794.0 182.3 L794.7 182.5 L795.5 182.8 L796.3 183.1 L797.2 183.4 L798.1 183.7 L798.9 184.0 L799.7 184.3 L800.6 184.7 L801.5 185.0 L802.4 185.4 L803.3 185.8 L804.2 186.2 L805.1 186.6 L805.9 187.0 L806.7 187.4 L807.5 187.9 L808.2 188.4 L809.0 188.8 L809.7 189.3 L810.4 189.9 L811.0 190.4 L811.6 191.0 L812.2 191.6 L812.7 192.2 L813.1 192.8 L813.6 193.4 L814.0 194.1 L814.4 194.8 L814.7 195.7 L815.1 196.7 L815.4 197.8 L815.7 199.0 L816.0 200.3 L816.2 201.7 L816.5 203.2 L816.8 204.8 L817.1 206.5 L817.4 208.3 L817.8 210.3 L818.2 212.4 L818.6 214.7 L819.0 217.1 L819.5 219.6 L819.9 222.0 L820.4 224.4 L820.9 226.8 L821.4 229.1 L822.0 231.4 L822.5 233.8 L823.1 236.1 L823.7 238.4 L824.3 240.7 L824.9 243.0 L825.5 245.2 L826.1 247.4 L826.8 249.6 L827.5 251.7 L828.1 253.8 L828.8 256.0 L829.4 258.0 L830.0 260.1 L830.5 262.2 L830.9 264.3 L831.3 266.3 L831.7 268.3 L832.0 270.3 L832.3 272.3 L832.5 274.3 L832.8 276.3 L833.0 278.3 L833.2 280.3 L833.3 282.3 L833.5 284.4 L833.6 286.4 L833.7 288.4 L833.7 290.5 L833.8 292.5 L833.9 294.5 L834.0 296.5 L834.1 298.5 L834.2 300.2 L834.1 300.9 L833.9 303.5 L833.6 306.1 L833.3 308.8 L833.0 311.3 L832.6 313.8 L832.3 316.0 L832.1 317.9 L831.9 319.4 L831.8 320.7 L831.7 321.7 L831.6 322.6 L831.5 323.3 L831.4 324.1 L831.3 325.0 L831.1 326.0 L830.9 327.1 L830.7 328.4 L830.5 329.6 L830.2 330.9 L830.0 332.1 L829.7 333.4 L829.5 334.6 L829.2 335.7 L828.9 336.8 L828.6 337.8 L828.3 338.8 L828.0 339.8 L827.7 340.8 L827.4 341.7 L827.1 342.7 L826.7 343.7 L826.3 344.7 L826.0 345.7 L825.6 346.7 L825.2 347.7 L824.8 348.8 L824.4 349.8 L824.0 350.8 L823.5 351.8 L823.0 352.8 L822.4 353.9 L821.8 355.0 L821.2 356.1 L820.6 357.1 L819.9 358.1 L819.3 359.0 L818.7 359.9 L818.1 360.7 L817.5 361.4 L816.9 362.0 L816.4 362.6 L815.8 363.2 L815.1 363.7 L814.5 364.2 L813.8 364.7 L813.0 365.1 L812.2 365.5 L811.3 365.9 L810.4 366.2 L809.5 366.5 L808.6 366.8 L807.9 367.0 L807.7 367.1 L807.1 367.1 L806.2 367.0 L805.2 366.9 L804.2 366.7Z"/>
<path d="M1042.1 248.8 L1041.8 251.2 L1041.5 253.6 L1041.2 256.0 L1041.0 258.4 L1040.8 260.7 L1040.6 263.0 L1040.4 265.3 L1040.3 267.6 L1040.2 270.0 L1040.1 272.4 L1040.0 274.8 L1039.9 277.3 L1039.9 279.9 L1039.9 282.5 L1039.9 285.1 L1039.9 297.1 L1039.9 299.8 L1039.9 302.4 L1039.9 305.0 L1039.9 307.6 L1039.9 310.2 L1040.0 313.0 L1040.0 315.8 L1040.1 318.5 L1040.1 321.1 L1040.2 323.6 L1040.2 325.8 L1040.3 327.7 L1040.4 329.2 L1040.4 330.4 L1040.5 331.3 L1040.6 332.0 L1040.7 332.7 L1040.8 333.4 L1040.9 334.1 L1041.0 335.0 L1041.2 336.1 L1041.3 337.2 L1041.5 338.3 L1041.7 339.5 L1041.9 340.7 L1042.1 341.9 L1042.3 343.0 L1042.6 344.0 L1042.9 345.0 L1043.1 345.9 L1043.4 346.8 L1043.7 347.7 L1044.1 348.6 L1044.4 349.4 L1044.8 350.2 L1045.2 351.0 L1045.6 351.7 L1046.1 352.4 L1046.6 353.0 L1047.1 353.6 L1047.7 354.2 L1048.3 354.9 L1048.9 355.6 L1049.5 356.3 L1050.2 357.1 L1050.8 358.0 L1051.6 358.9 L1052.3 359.8 L1053.1 360.7 L1053.9 361.7 L1054.7 362.6 L1055.5 363.5 L1056.4 364.4 L1057.2 365.3 L1058.1 366.2 L1059.1 367.1 L1060.0 367.9 L1061.0 368.8 L1062.0 369.6 L1063.0 370.3 L1064.1 371.0 L1065.1 371.7 L1066.3 372.3 L1067.4 372.9 L1068.6 373.5 L1069.7 374.0 L1070.9 374.5 L1072.0 375.0 L1073.1 375.4 L1074.1 375.8 L1075.1 376.1 L1076.1 376.4 L1077.2 376.6 L1078.3 376.9 L1079.6 377.1 L1081.0 377.3 L1082.6 377.5 L1084.4 377.8 L1086.3 378.0 L1088.3 378.2 L1090.4 378.4 L1092.4 378.5 L1094.3 378.6 L1096.0 378.6 L1100.0 378.6 L1101.7 378.5 L1103.4 378.4 L1105.1 378.1 L1106.7 377.9 L1108.2 377.6 L1108.6 377.5 L1111.6 377.5 L1111.9 377.5 L1112.1 377.4 L1112.3 377.2 L1112.3 377.1 L1112.3 373.7 L1112.5 372.7 L1112.7 371.5 L1113.0 370.3 L1113.2 369.0 L1113.4 367.6 L1113.6 366.1 L1113.8 364.6 L1114.0 362.9 L1114.2 361.2 L1114.4 359.5 L1114.6 357.8 L1114.8 356.0 L1115.0 354.2 L1115.2 352.4 L1115.4 350.5 L1115.6 348.6 L1115.8 346.7 L1116.0 344.8 L1116.1 342.9 L1116.3 341.0 L1116.5 339.1 L1116.6 337.1 L1116.8 335.1 L1116.9 333.2 L1117.0 331.2 L1117.2 329.4 L1117.2 327.6 L1117.3 326.0 L1117.3 324.6 L1117.3 323.6 L1117.3 311.6 L1117.3 310.7 L1117.3 309.8 L1117.3 308.9 L1117.2 307.7 L1117.1 306.2 L1117.0 304.2 L1116.9 301.6 L1116.7 298.3 L1116.5 294.7 L1116.3 290.9 L1116.1 287.0 L1115.9 283.4 L1115.7 280.1 L1115.6 277.4 L1115.5 275.4 L1115.5 273.8 L1115.4 272.6 L1115.4 271.7 L1115.4 270.7 L1115.3 269.6 L1115.3 268.2 L1115.1 266.4 L1114.9 264.1 L1114.6 261.5 L1114.3 258.6 L1113.9 255.6 L1113.6 252.5 L1113.2 249.4 L1112.9 246.3 L1112.6 243.3 L1112.4 240.4 L1112.1 237.5 L1111.9 234.6 L1111.7 231.8 L1111.5 228.9 L1111.4 226.0 L1111.2 223.1 L1111.0 220.2 L1110.8 217.2 L1110.6 214.0 L1110.5 210.8 L1110.3 207.6 L1110.1 204.6 L1110.0 201.8 L1109.8 199.2 L1109.6 197.1 L1109.4 195.5 L1109.2 194.4 L1109.0 193.7 L1108.8 193.1 L1108.5 192.6 L1108.3 192.0 L1108.1 191.2 L1107.9 190.0 L1107.7 188.4 L1107.5 186.7 L1107.3 184.7 L1107.1 182.7 L1106.9 180.5 L1106.7 178.3 L1106.5 176.2 L1106.3 174.0 L1106.1 171.8 L1105.9 169.6 L1105.7 167.2 L1105.5 164.9 L1105.4 162.6 L1105.2 160.3 L1105.0 158.1 L1104.8 156.0 L1104.6 154.0 L1104.5 152.1 L1104.3 150.3 L1104.1 148.5 L1104.0 146.7 L1103.8 145.0 L1103.5 143.2 L1103.3 141.5 L1103.0 139.7 L1102.7 137.9 L1102.3 136.2 L1102.0 134.4 L1101.6 132.7 L1101.2 131.0 L1100.8 129.5 L1100.5 128.0 L1100.2 126.7 L1099.9 125.4 L1099.6 124.3 L1099.3 123.2 L1099.0 122.1 L1098.7 121.1 L1098.4 120.2 L1098.0 119.2 L1097.6 118.3 L1097.2 117.4 L1096.7 116.5 L1096.3 115.7 L1095.8 115.0 L1095.3 114.2 L1094.8 113.5 L1094.3 112.8 L1093.8 112.1 L1093.2 111.5 L1092.7 110.9 L1092.1 110.4 L1091.5 109.9 L1090.9 109.3 L1090.2 108.8 L1089.6 108.3 L1088.9 107.8 L1088.2 107.3 L1087.4 106.8 L1086.6 106.3 L1085.8 105.9 L1085.8 105.8 L1085.8 100.0 L1085.5 100.0 L1085.2 100.0 L1084.7 100.0 L1084.2 100.0 L1083.7 100.0 L1079.7 100.0 L1079.2 100.0 L1078.7 100.0 L1078.3 100.0 L1077.9 100.0 L1077.5 100.1 L1077.0 100.1 L1076.6 100.2 L1076.2 100.2 L1075.8 100.3 L1075.5 100.3 L1075.1 100.4 L1074.8 100.5 L1074.5 100.5 L1074.2 100.6 L1073.9 100.6 L1073.6 100.7 L1073.3 100.8 L1073.1 100.9 L1072.8 101.0 L1072.5 101.1 L1072.3 101.2 L1072.0 101.4 L1071.8 101.5 L1071.5 101.7 L1071.2 101.9 L1070.9 102.1 L1070.6 102.4 L1070.2 102.8 L1069.9 103.2 L1069.4 103.7 L1069.0 104.2 L1068.6 104.7 L1068.2 105.2 L1067.8 105.8 L1067.4 106.3 L1067.0 106.8 L1066.7 107.3 L1066.3 107.9 L1066.0 108.4 L1065.7 109.0 L1065.4 109.5 L1065.1 110.0 L1064.9 110.5 L1064.7 110.9 L1064.6 111.3 L1064.5 111.6 L1064.5 111.9 L1064.4 112.2 L1064.3 112.6 L1064.2 113.1 L1064.0 113.8 L1063.8 114.6 L1063.5 115.4 L1063.2 116.3 L1062.8 117.2 L1062.5 118.3 L1062.1 119.5 L1061.7 120.8 L1061.3 122.3 L1060.9 124.0 L1060.4 125.8 L1059.9 127.8 L1059.4 130.0 L1058.8 132.2 L1058.3 134.3 L1057.9 136.5 L1057.4 138.6 L1057.0 140.6 L1056.6 142.7 L1056.2 144.7 L1055.8 146.7 L1055.4 148.7 L1055.1 150.8 L1054.7 152.8 L1054.4 154.8 L1054.1 156.9 L1053.7 159.1 L1053.4 161.4 L1053.1 163.7 L1052.8 165.8 L1052.6 167.8 L1052.3 169.5 L1052.1 170.9 L1051.9 171.8 L1051.8 172.1 L1051.6 172.1 L1051.5 172.3 L1051.4 172.9 L1051.2 174.0 L1051.0 175.8 L1050.8 178.0 L1050.5 180.5 L1050.2 183.3 L1049.9 186.2 L1049.6 189.2 L1049.3 192.1 L1049.0 194.8 L1048.7 197.4 L1048.3 200.0 L1048.0 202.6 L1047.6 205.2 L1047.2 207.8 L1046.9 210.4 L1046.5 213.0 L1046.2 215.6 L1045.9 218.2 L1045.6 220.8 L1045.3 223.5 L1045.0 226.1 L1044.7 228.7 L1044.4 231.3 L1044.1 233.9 L1043.8 236.4 L1043.5 238.9 L1043.1 241.4 L1042.8 243.9 L1042.4 246.3Z M1073.7 362.0 L1072.6 361.5 L1071.4 360.9 L1070.3 360.3 L1069.1 359.7 L1068.1 359.0 L1067.0 358.3 L1066.0 357.6 L1065.0 356.8 L1064.0 355.9 L1063.1 355.1 L1062.1 354.2 L1061.2 353.3 L1060.4 352.4 L1059.5 351.5 L1058.7 350.6 L1057.9 349.7 L1057.1 348.7 L1056.3 347.8 L1055.6 346.9 L1054.8 346.0 L1054.2 345.1 L1053.5 344.3 L1052.9 343.6 L1052.3 342.9 L1051.7 342.2 L1051.1 341.6 L1050.6 341.0 L1050.1 340.4 L1049.6 339.7 L1049.2 339.0 L1048.8 338.2 L1048.4 337.4 L1048.1 336.6 L1047.7 335.7 L1047.4 334.8 L1047.1 333.9 L1046.9 333.0 L1046.6 332.0 L1046.3 331.0 L1046.1 329.9 L1045.9 328.7 L1045.7 327.5 L1045.5 326.3 L1045.3 325.2 L1045.2 324.1 L1045.0 323.0 L1044.9 322.1 L1044.8 321.4 L1044.7 320.7 L1044.6 320.0 L1044.5 319.3 L1044.4 318.4 L1044.4 317.2 L1044.3 315.7 L1044.2 313.8 L1044.2 311.6 L1044.1 309.1 L1044.1 306.5 L1044.0 303.8 L1044.0 301.0 L1043.9 298.2 L1043.9 295.6 L1043.9 293.0 L1043.9 292.6 L1043.9 291.9 L1043.9 289.3 L1044.0 286.8 L1044.1 284.4 L1044.2 282.0 L1044.3 279.6 L1044.4 277.3 L1044.6 275.0 L1044.8 272.7 L1045.0 270.4 L1045.2 268.0 L1045.5 265.6 L1045.8 263.2 L1046.1 260.8 L1046.4 258.3 L1046.8 255.9 L1047.1 253.4 L1047.5 250.9 L1047.8 248.4 L1048.1 245.9 L1048.4 243.3 L1048.7 240.7 L1049.0 238.1 L1049.3 235.5 L1049.6 232.8 L1049.9 230.2 L1050.2 227.6 L1050.5 225.0 L1050.9 222.4 L1051.2 219.8 L1051.6 217.2 L1052.0 214.6 L1052.3 212.0 L1052.7 209.4 L1053.0 206.8 L1053.3 204.1 L1053.6 201.2 L1053.9 198.2 L1054.2 195.3 L1054.5 192.5 L1054.8 190.0 L1055.0 187.8 L1055.2 186.0 L1055.4 184.9 L1055.5 184.3 L1055.5 184.2 L1055.7 184.2 L1055.8 184.2 L1055.9 183.8 L1056.1 182.9 L1056.3 181.5 L1056.6 179.8 L1056.8 177.8 L1057.1 175.7 L1057.4 173.4 L1057.7 171.1 L1058.1 168.9 L1058.4 166.8 L1058.7 164.8 L1059.1 162.8 L1059.4 160.7 L1059.8 158.7 L1060.2 156.7 L1060.6 154.7 L1061.0 152.6 L1061.4 150.6 L1061.9 148.5 L1062.3 146.3 L1062.8 144.2 L1063.4 142.0 L1063.9 139.8 L1064.4 137.8 L1064.9 136.0 L1065.3 134.3 L1065.7 132.8 L1066.1 131.5 L1066.5 130.3 L1066.8 129.2 L1067.2 128.3 L1067.5 127.4 L1067.8 126.6 L1068.0 125.8 L1068.2 125.1 L1068.3 124.6 L1068.4 124.2 L1068.5 123.9 L1068.5 123.6 L1068.6 123.3 L1068.7 122.9 L1068.9 122.5 L1069.1 122.0 L1069.4 121.5 L1069.7 121.0 L1070.0 120.4 L1070.3 119.9 L1070.7 119.3 L1071.0 118.8 L1071.4 118.3 L1071.8 117.8 L1072.2 117.2 L1072.6 116.7 L1073.0 116.2 L1073.4 115.7 L1073.9 115.2 L1074.2 114.8 L1074.6 114.4 L1074.9 114.1 L1075.2 113.9 L1075.5 113.7 L1075.8 113.5 L1076.0 113.4 L1076.3 113.2 L1076.5 113.1 L1076.7 113.4 L1077.0 113.7 L1077.4 114.1 L1077.8 114.6 L1078.2 115.0 L1078.7 115.5 L1079.2 116.0 L1079.8 116.5 L1080.4 117.0 L1081.1 117.4 L1081.8 117.9 L1082.6 118.3 L1083.4 118.8 L1084.2 119.3 L1084.9 119.8 L1085.6 120.3 L1086.2 120.8 L1086.9 121.3 L1087.5 121.9 L1088.1 122.4 L1088.7 122.9 L1089.2 123.5 L1089.8 124.1 L1090.3 124.8 L1090.8 125.5 L1091.3 126.2 L1091.8 127.0 L1092.3 127.7 L1092.7 128.5 L1093.2 129.4 L1093.6 130.3 L1094.0 131.2 L1094.4 132.2 L1094.7 133.1 L1095.0 134.1 L1095.3 135.2 L1095.6 136.3 L1095.9 137.4 L1096.2 138.7 L1096.5 140.0 L1096.8 141.5 L1097.2 143.0 L1097.6 144.7 L1098.0 146.4 L1098.3 148.2 L1098.7 149.9 L1099.0 151.7 L1099.3 153.5 L1099.5 155.2 L1099.8 157.0 L1100.0 158.7 L1100.1 160.5 L1100.3 162.3 L1100.5 164.1 L1100.6 166.0 L1100.8 168.0 L1101.0 170.1 L1101.2 172.3 L1101.4 174.6 L1101.5 176.9 L1101.7 179.2 L1101.9 181.6 L1102.1 183.8 L1102.3 186.0 L1102.5 188.2 L1102.7 190.3 L1102.9 192.5 L1103.1 194.7 L1103.3 196.7 L1103.5 198.7 L1103.7 200.4 L1103.9 202.0 L1104.1 203.2 L1104.3 204.0 L1104.5 204.6 L1104.8 205.1 L1105.0 205.7 L1105.2 206.4 L1105.4 207.5 L1105.6 209.1 L1105.8 211.2 L1106.0 213.8 L1106.1 216.6 L1106.3 219.6 L1106.5 222.8 L1106.6 226.0 L1106.8 229.2 L1107.0 232.2 L1107.2 235.1 L1107.4 238.0 L1107.5 240.9 L1107.7 243.8 L1107.9 246.6 L1108.1 249.5 L1108.4 252.4 L1108.6 255.3 L1108.9 258.3 L1109.2 261.4 L1109.6 264.5 L1109.9 267.6 L1110.3 270.6 L1110.6 273.5 L1110.9 276.1 L1111.1 278.4 L1111.3 280.2 L1111.3 281.6 L1111.4 282.7 L1111.4 283.7 L1111.4 284.6 L1111.5 285.8 L1111.5 287.4 L1111.6 289.4 L1111.7 292.1 L1111.9 295.4 L1112.1 299.0 L1112.3 302.9 L1112.5 306.7 L1112.7 310.3 L1112.9 313.6 L1113.0 316.2 L1113.1 318.2 L1113.1 318.2 L1113.0 319.2 L1112.9 321.2 L1112.8 323.1 L1112.6 325.1 L1112.5 327.1 L1112.3 329.0 L1112.1 330.9 L1112.0 332.8 L1111.8 334.7 L1111.6 336.6 L1111.4 338.5 L1111.2 340.4 L1111.0 342.2 L1110.8 344.0 L1110.6 345.8 L1110.4 347.5 L1110.2 349.2 L1110.0 350.9 L1109.8 352.6 L1109.6 354.1 L1109.4 355.6 L1109.2 357.0 L1109.0 358.3 L1108.7 359.5 L1108.5 360.7 L1108.2 361.8 L1108.0 362.8 L1107.8 363.7 L1107.6 364.4 L1107.5 365.0 L1106.6 365.1 L1105.5 365.4 L1104.2 365.6 L1102.7 365.9 L1101.1 366.1 L1099.4 366.4 L1097.7 366.5 L1097.3 366.5 L1096.4 366.5 L1094.4 366.4 L1092.3 366.2 L1090.3 366.0 L1088.4 365.8 L1086.6 365.5 L1085.0 365.3 L1083.6 365.1 L1082.3 364.9 L1081.2 364.6 L1080.1 364.4 L1079.1 364.1 L1078.1 363.8 L1077.1 363.4 L1076.0 363.0 L1074.9 362.5Z"/>
</g>
<text x="47.5" y="55.8" text-anchor="end">6,500</text>
<text x="47.5" y="131.8" text-anchor="end">6,000</text>
<text x="47.5" y="207.8" text-anchor="end">5,500</text>
<text x="47.5" y="283.8" text-anchor="end">5,000</text>
<text x="47.5" y="359.8" text-anchor="end">4,500</text>
<text x="1111.1" y="55.8">3.00</text>
<text x="1111.1" y="157.1">2.00</text>
<text x="1111.1" y="258.5">1.00</text>
<text x="1111.1" y="359.8">0.00</text>
<text transform="translate(65.04 362.2) rotate(-90)" text-anchor="end">2024-01-03</text>
<text transform="translate(78.74 362.2) rotate(-90)" text-anchor="end">2024-01-08</text>
<text transform="translate(92.44 362.2) rotate(-90)" text-anchor="end">2024-01-11</text>
<text transform="translate(106.13 362.2) rotate(-90)" text-anchor="end">2024-01-17</text>
<text transform="translate(119.83 362.2) rotate(-90)" text-anchor="end">2024-01-22</text>
<text transform="translate(133.53 362.2) rotate(-90)" text-anchor="end">2024-01-25</text>
<text transform="translate(147.23 362.2) rotate(-90)" text-anchor="end">2024-01-30</text>
<text transform="translate(160.93 362.2) rotate(-90)" text-anchor="end">2024-02-02</text>
<text transform="translate(174.62 362.2) rotate(-90)" text-anchor="end">2024-02-07</text>
<text transform="translate(188.32 362.2) rotate(-90)" text-anchor="end">2024-02-14</text>
<text transform="translate(202.02 362.2) rotate(-90)" text-anchor="end">2024-02-20</text>
<text transform="translate(215.72 362.2) rotate(-90)" text-anchor="end">2024-02-23</text>
<text transform="translate(229.42 362.2) rotate(-90)" text-anchor="end">2024-02-28</text>
<text transform="translate(243.11 362.2) rotate(-90)" text-anchor="end">2024-03-05</text>
<text transform="translate(256.81 362.2) rotate(-90)" text-anchor="end">2024-03-08</text>
<text transform="translate(270.51 362.2) rotate(-90)" text-anchor="end">2024-03-13</text>
<text transform="translate(284.21 362.2) rotate(-90)" text-anchor="end">2024-03-18</text>
<text transform="translate(297.91 362.2) rotate(-90)" text-anchor="end">2024-03-21</text>
<text transform="translate(311.60 362.2) rotate(-90)" text-anchor="end">2024-03-26</text>
<text transform="translate(325.30 362.2) rotate(-90)" text-anchor="end">2024-04-01</text>
<text transform="translate(339.00 362.2) rotate(-90)" text-anchor="end">2024-04-04</text>
<text transform="translate(352.70 362.2) rotate(-90)" text-anchor="end">2024-04-09</text>
<text transform="translate(366.40 362.2) rotate(-90)" text-anchor="end">2024-04-15</text>
<text transform="translate(380.09 362.2) rotate(-90)" text-anchor="end">2024-04-18</text>
<text transform="translate(393.79 362.2) rotate(-90)" text-anchor="end">2024-04-23</text>
<text transform="translate(407.49 362.2) rotate(-90)" text-anchor="end">2024-04-26</text>
<text transform="translate(421.19 362.2) rotate(-90)" text-anchor="end">2024-05-02</text>
<text transform="translate(434.89 362.2) rotate(-90)" text-anchor="end">2024-05-08</text>
<text transform="translate(448.58 362.2) rotate(-90)" text-anchor="end">2024-05-13</text>
<text transform="translate(462.28 362.2) rotate(-90)" text-anchor="end">2024-05-17</text>
<text transform="translate(475.98 362.2) rotate(-90)" text-anchor="end">2024-05-22</text>
<text transform="translate(489.68 362.2) rotate(-90)" text-anchor="end">2024-05-28</text>
<text transform="translate(503.38 362.2) rotate(-90)" text-anchor="end">2024-05-31</text>
<text transform="translate(517.07 362.2) rotate(-90)" text-anchor="end">2024-06-05</text>
<text transform="translate(530.77 362.2) rotate(-90)" text-anchor="end">2024-06-11</text>
<text transform="translate(544.47 362.2) rotate(-90)" text-anchor="end">2024-06-14</text>
<text transform="translate(558.17 362.2) rotate(-90)" text-anchor="end">2024-06-20</text>
<text transform="translate(571.87 362.2) rotate(-90)" text-anchor="end">2024-06-25</text>
<text transform="translate(585.56 362.2) rotate(-90)" text-anchor="end">2024-06-28</text>
<text transform="translate(599.26 362.2) rotate(-90)" text-anchor="end">2024-07-03</text>
<text transform="translate(612.96 362.2) rotate(-90)" text-anchor="end">2024-07-09</text>
<text transform="translate(626.66 362.2) rotate(-90)" text-anchor="end">2024-07-12</text>
<text transform="translate(640.36 362.2) rotate(-90)" text-anchor="end">2024-07-17</text>
<text transform="translate(654.05 362.2) rotate(-90)" text-anchor="end">2024-07-22</text>
<text transform="translate(667.75 362.2) rotate(-90)" text-anchor="end">2024-07-25</text>
<text transform="translate(681.45 362.2) rotate(-90)" text-anchor="end">2024-07-30</text>
<text transform="translate(695.15 362.2) rotate(-90)" text-anchor="end">2024-08-02</text>
<text transform="translate(708.85 362.2) rotate(-90)" text-anchor="end">2024-08-07</text>
<text transform="translate(722.54 362.2) rotate(-90)" text-anchor="end">2024-08-12</text>
<text transform="translate(736.24 362.2) rotate(-90)" text-anchor="end">2024-08-16</text>
<text transform="translate(749.94 362.2) rotate(-90)" text-anchor="end">2024-08-21</text>
<text transform="translate(763.64 362.2) rotate(-90)" text-anchor="end">2024-08-26</text>
<text transform="translate(777.34 362.2) rotate(-90)" text-anchor="end">2024-08-29</text>
<text transform="translate(791.03 362.2) rotate(-90)" text-anchor="end">2024-09-04</text>
<text transform="translate(804.73 362.2) rotate(-90)" text-anchor="end">2024-09-09</text>
<text transform="translate(818.43 362.2) rotate(-90)" text-anchor="end">2024-09-12</text>
<text transform="translate(832.13 362.2) rotate(-90)" text-anchor="end">2024-09-20</text>
<text transform="translate(845.83 362.2) rotate(-90)" text-anchor="end">2024-09-25</text>
<text transform="translate(859.52 362.2) rotate(-90)" text-anchor="end">2024-09-30</text>
<text transform="translate(873.22 362.2) rotate(-90)" text-anchor="end">2024-10-07</text>
<text transform="translate(886.92 362.2) rotate(-90)" text-anchor="end">2024-10-11</text>
<text transform="translate(900.62 362.2) rotate(-90)" text-anchor="end">2024-10-16</text>
<text transform="translate(914.32 362.2) rotate(-90)" text-anchor="end">2024-10-21</text>
<text transform="translate(928.01 362.2) rotate(-90)" text-anchor="end">2024-10-24</text>
<text transform="translate(941.71 362.2) rotate(-90)" text-anchor="end">2024-10-29</text>
<text transform="translate(955.41 362.2) rotate(-90)" text-anchor="end">2024-11-01</text>
<text transform="translate(969.11 362.2) rotate(-90)" text-anchor="end">2024-11-06</text>
<text transform="translate(982.81 362.2) rotate(-90)" text-anchor="end">2024-11-11</text>
<text transform="translate(996.50 362.2) rotate(-90)" text-anchor="end">2024-11-14</text>
<text transform="translate(1010.20 362.2) rotate(-90)" text-anchor="end">2024-11-19</text>
<text transform="translate(1023.90 362.2) rotate(-90)" text-anchor="end">2024-11-22</text>
<text transform="translate(1037.60 362.2) rotate(-90)" text-anchor="end">2024-11-27</text>
<text transform="translate(1051.30 362.2) rotate(-90)" text-anchor="end">2024-12-03</text>
<text transform="translate(1064.99 362.2) rotate(-90)" text-anchor="end">2024-12-06</text>
<text transform="translate(1078.69 362.2) rotate(-90)" text-anchor="end">2024-12-11</text>
<text transform="translate(1092.39 362.2) rotate(-90)" text-anchor="end">2024-12-16</text>
<text transform="translate(1106.09 362.2) rotate(-90)" text-anchor="end">2024-12-19</text>
<rect x="488" y="19" width="12.2" height="12.2" rx="2" fill="#e04a35"/>
<text x="508.6" y="29.3" letter-spacing="0.6">월가아재 칼럼</text>
<rect x="599.5" y="23.5" width="12.2" height="4" fill="#4a82f2"/>
<text x="620" y="29.3">S&amp;P500</text>
</svg></body></html>
